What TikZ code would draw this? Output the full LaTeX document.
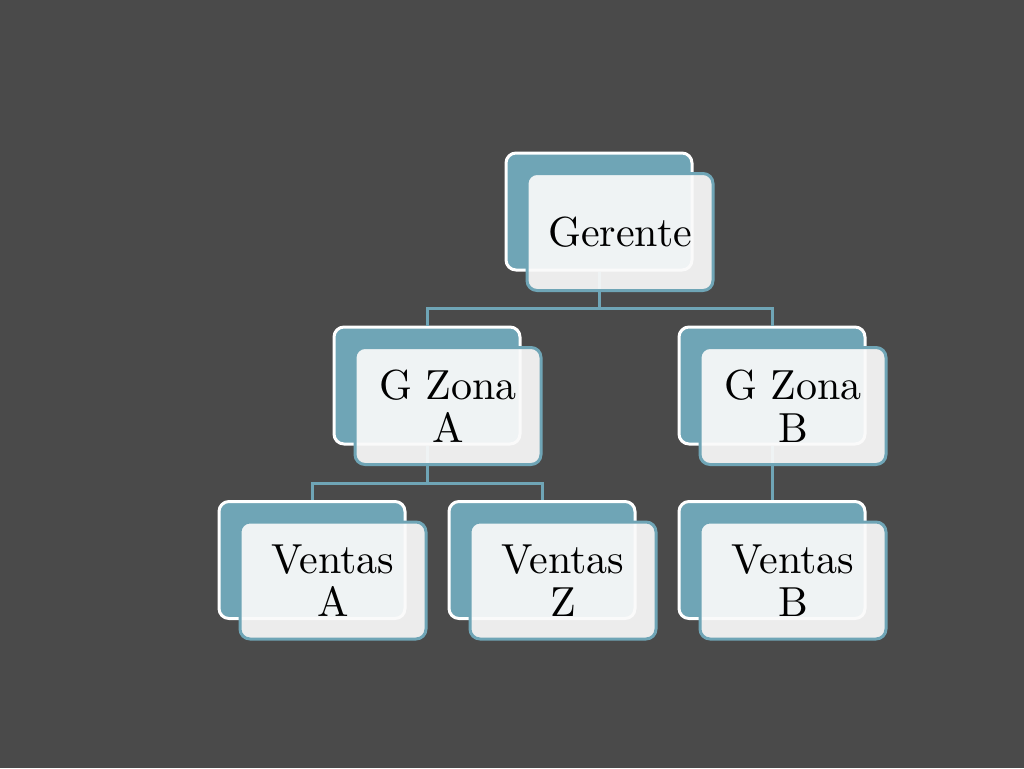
\documentclass[tikz,border=0pt]{standalone}
\usepackage{fontspec}
\setmainfont{lmroman10-regular}[Extension=.otf]
\usetikzlibrary{positioning}
\definecolor{slide}{HTML}{4A4A4A}
\definecolor{boxteal}{HTML}{6FA5B6}
\definecolor{boxface}{HTML}{FAFAFA}

\begin{document}
\begin{tikzpicture}[x=1pt,y=-1pt,
  backbox/.style={draw=white,line width=3pt,fill=boxteal,rounded corners=10pt,
    minimum width=186pt,minimum height=117pt,inner sep=0pt},
  frontbox/.style={draw=boxteal,line width=3pt,fill=boxface,fill opacity=0.92,
    text opacity=1,rounded corners=10pt,minimum width=186pt,minimum height=117pt,
    inner sep=0pt,align=center,font=\fontsize{42}{43}\selectfont},
  link/.style={draw=boxteal,line width=3pt}]
\fill[slide] (0,0) rectangle (1024,768);
\useasboundingbox (0,0) rectangle (1024,768);

% back plates
\node[backbox] (ger) at (599,211.5) {};
\node[backbox] (za)  at (427,385.5) {};
\node[backbox] (zb)  at (772,385.5) {};
\node[backbox] (va)  at (312,560) {};
\node[backbox] (vz)  at (542,560) {};
\node[backbox] (vb)  at (772,560) {};

% connectors
\draw[link] (ger.south) -- ++(0,37) -| (za.north);
\draw[link] (ger.south) -- ++(0,37) -| (zb.north);
\draw[link] (za.south) -- ++(0,38) -| (va.north);
\draw[link] (za.south) -- ++(0,38) -| (vz.north);
\draw[link] (zb.south) -- (vb.north);

% front cards
\node[frontbox,xshift=21pt,yshift=-20.5pt] (gerT) at (ger) {Gerente};
\node[frontbox,xshift=21pt,yshift=-20.5pt] (zaT) at (za) {G Zona\\A};
\node[frontbox,xshift=21pt,yshift=-20.5pt] (zbT) at (zb) {G Zona\\B};
\node[frontbox,xshift=21pt,yshift=-20.5pt] (vaT) at (va) {Ventas\\A};
\node[frontbox,xshift=21pt,yshift=-20.5pt] (vzT) at (vz) {Ventas\\Z};
\node[frontbox,xshift=21pt,yshift=-20.5pt] (vbT) at (vb) {Ventas\\B};
\end{tikzpicture}
\end{document}
